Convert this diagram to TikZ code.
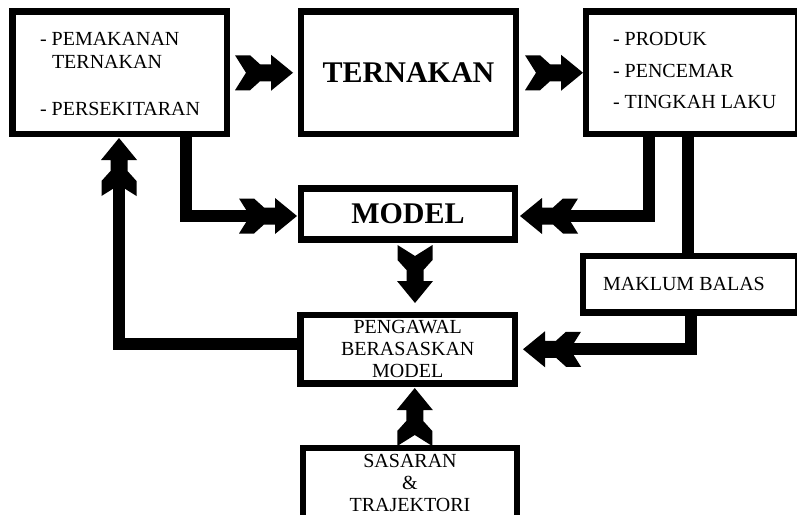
\documentclass[tikz,border=0pt]{standalone}
\usepackage{fontspec}
\setmainfont{Liberation Serif}
\usetikzlibrary{calc}
\tikzset{
  box/.style={draw, line width=6.5pt, inner sep=0pt, outer sep=0pt, rectangle, fill=white},
  conn/.style={line width=12pt, line join=miter, line cap=butt},
  txt/.style={inner sep=0pt, outer sep=0pt, font=\fontsize{20}{22}\selectfont},
  big/.style={font=\fontsize{30}{34}\selectfont\bfseries},
  fatarrow/.pic={\fill (0,0) -- (-22,18) -- (-22,8.5) -- (-33,8.5) -- (-43,17.5) -- (-58,17.5) -- (-47,0) -- (-58,-17.5) -- (-43,-17.5) -- (-33,-8.5) -- (-22,-8.5) -- (-22,-18) -- cycle;}
}
\begin{document}
\begin{tikzpicture}[x=1pt,y=-1pt]
\useasboundingbox (0,0) rectangle (797,514);
\clip (0,0) rectangle (797,514);
% boxes
\node[box, minimum width=214.5pt, minimum height=122.5pt] (A) at (119.75,72.75) {};
\node[box, minimum width=215pt, minimum height=122.5pt, big] (T) at (408.5,72.75) {TERNAKAN};
\node[box, minimum width=212pt, minimum height=122.5pt] (R) at (692,72.75) {};
\node[box, minimum width=214pt, minimum height=51pt, big] (MOD) at (408,214) {MODEL};
\node[box, minimum width=214.5pt, minimum height=68.5pt, txt, align=center] (P) at (407.75,349.25) {PENGAWAL\\BERASASKAN\\MODEL};
\node[box, minimum width=214pt, minimum height=90pt] (S) at (410,493) {};
\node[box, minimum width=215pt, minimum height=56.5pt] (M) at (690.5,284.25) {};
% texts
\node[txt, anchor=base west] (a1) at (40,45) {- PEMAKANAN};
\node[txt, anchor=base west] (a2) at (52,68) {TERNAKAN};
\node[txt, anchor=base west] (a3) at (40,115) {- PERSEKITARAN};
\node[txt, anchor=base west] (r1) at (613,45) {- PRODUK};
\node[txt, anchor=base west] (r2) at (613,77) {- PENCEMAR};
\node[txt, anchor=base west] (r3) at (613,108) {- TINGKAH LAKU};
\node[txt, anchor=base] (mt) at (684,290) {MAKLUM BALAS};
\node[txt, anchor=north, align=center] (st) at (410,454) {SASARAN\\\&\\TRAJEKTORI};
% arrow tips
\coordinate (t1) at ($(T.west)+(-8,0)$);
\coordinate (t2) at ($(R.west)+(-3,0)$);
\coordinate (t3) at ($(MOD.west)+(-4,2)$);
\coordinate (t4) at ($(MOD.east)+(5,2)$);
\coordinate (t5) at ($(MOD.south)+(7,63.5)$);
\coordinate (t6) at ($(P.east)+(8,0)$);
\coordinate (t7) at ($(P.south)+(7,4.5)$);
\coordinate (t8) at ($(A.south)+(-0.75,4)$);
% connectors
\coordinate (xa) at (186,0);
\coordinate (xr1) at (649,0);
\coordinate (xr2) at (688,0);
\coordinate (xm) at (691,0);
\draw[conn] (A.south -| xa) |- ($(t3)+(-45,0)$);
\draw[conn] (R.south -| xr1) |- ($(t4)+(45,0)$);
\draw[conn] (R.south -| xr2) -- (M.north -| xr2);
\draw[conn] (M.south -| xm) |- ($(t6)+(45,0)$);
\draw[conn] ($(P.west)+(0,-5.75)$) -| ($(t8)+(0,45)$);
% arrows
\pic at (t1) {fatarrow};
\pic at (t2) {fatarrow};
\pic at (t3) {fatarrow};
\pic[rotate=180] at (t4) {fatarrow};
\pic[rotate=-90] at (t5) {fatarrow};
\pic[rotate=180] at (t6) {fatarrow};
\pic[rotate=90] at (t7) {fatarrow};
\pic[rotate=90] at (t8) {fatarrow};
\end{tikzpicture}
\end{document}
